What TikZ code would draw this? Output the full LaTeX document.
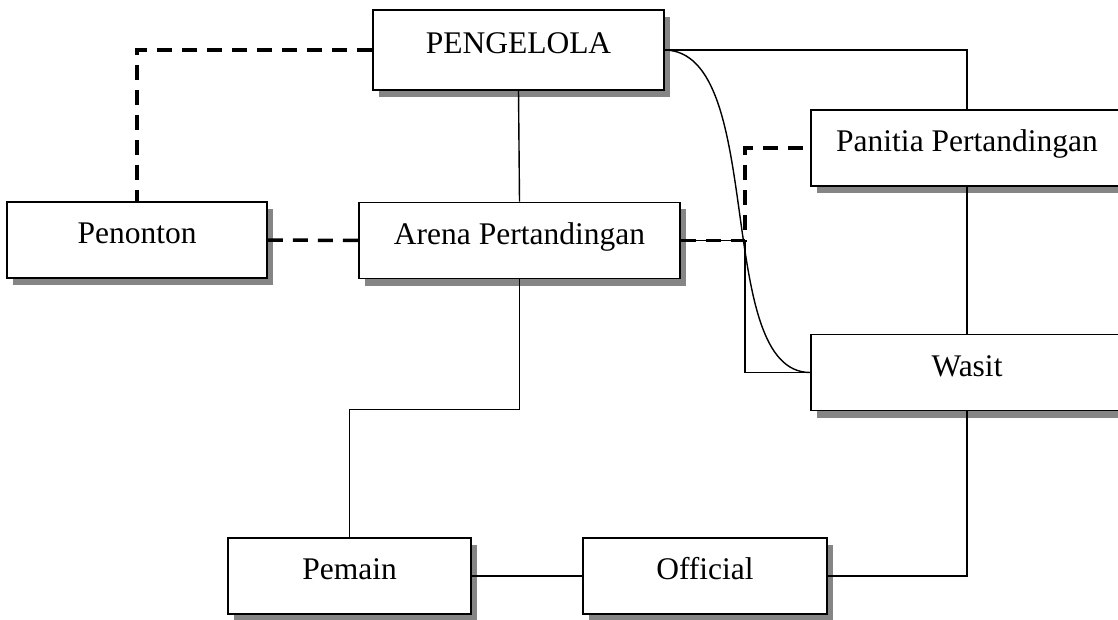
\documentclass[tikz,border=0pt]{standalone}
\usepackage{fontspec}
\setmainfont{Liberation Serif}
\usetikzlibrary{shadows}
\definecolor{shadowgray}{HTML}{858585}
\tikzset{
  box/.style={draw, line width=1.6pt, fill=white, rectangle, inner sep=0pt,
    minimum height=76pt, text height=22pt, text depth=15pt,
    font=\fontsize{31.5}{36}\selectfont,
    general shadow={fill=shadowgray, shadow xshift=6pt, shadow yshift=-7pt}},
  link/.style={line width=1.4pt},
  dashlink/.style={line width=3.5pt, dash pattern=on 15pt off 10pt}
}
\begin{document}
\begin{tikzpicture}[x=1pt, y=-1pt]
  \useasboundingbox (0,0) rectangle (1118,620);
  \clip (0,0) rectangle (1118,620);
  \fill[white] (0,0) rectangle (1118,620);

  % boxes
  \node[box, minimum width=291pt, minimum height=80pt] (peng) at (518.5,50) {PENGELOLA};
  \node[box, minimum width=260pt] (pen) at (137,240) {Penonton};
  \node[box, minimum width=321pt] (arena) at (519.5,240.5) {Arena Pertandingan};
  \node[box, minimum width=312pt] (pan) at (967,148) {Panitia Pertandingan};
  \node[box, minimum width=312pt] (wasit) at (967,372.5) {Wasit};
  \node[box, minimum width=243pt] (pem) at (349.5,576) {Pemain};
  \node[box, minimum width=244pt] (off) at (705,576) {Official};

  % junction right of the arena
  \coordinate (j) at (745,240.5);

  % solid connectors
  \draw[link] (peng.south) -- (arena.north);
  \draw[link] (peng.east) -| (pan.north);
  \draw[link] (pan.south) -- (wasit.north);
  \draw[link] (arena.east) -- (j) |- (wasit.west);
  \draw[link] (peng.east) .. controls (768,52) and (712,372.5) .. (wasit.west);
  \draw[link] (arena.south) -- ++(0,130) -| (pem.north);
  \draw[link] (pem.east) -- (off.west);
  \draw[link] (wasit.south) |- (off.east);

  % dashed connectors
  \draw[dashlink] (peng.west) -| (pen.north);
  \draw[dashlink] (pen.east) -- (arena.west);
  \draw[dashlink] (arena.east) -- (j) |- (pan.west);
\end{tikzpicture}
\end{document}
